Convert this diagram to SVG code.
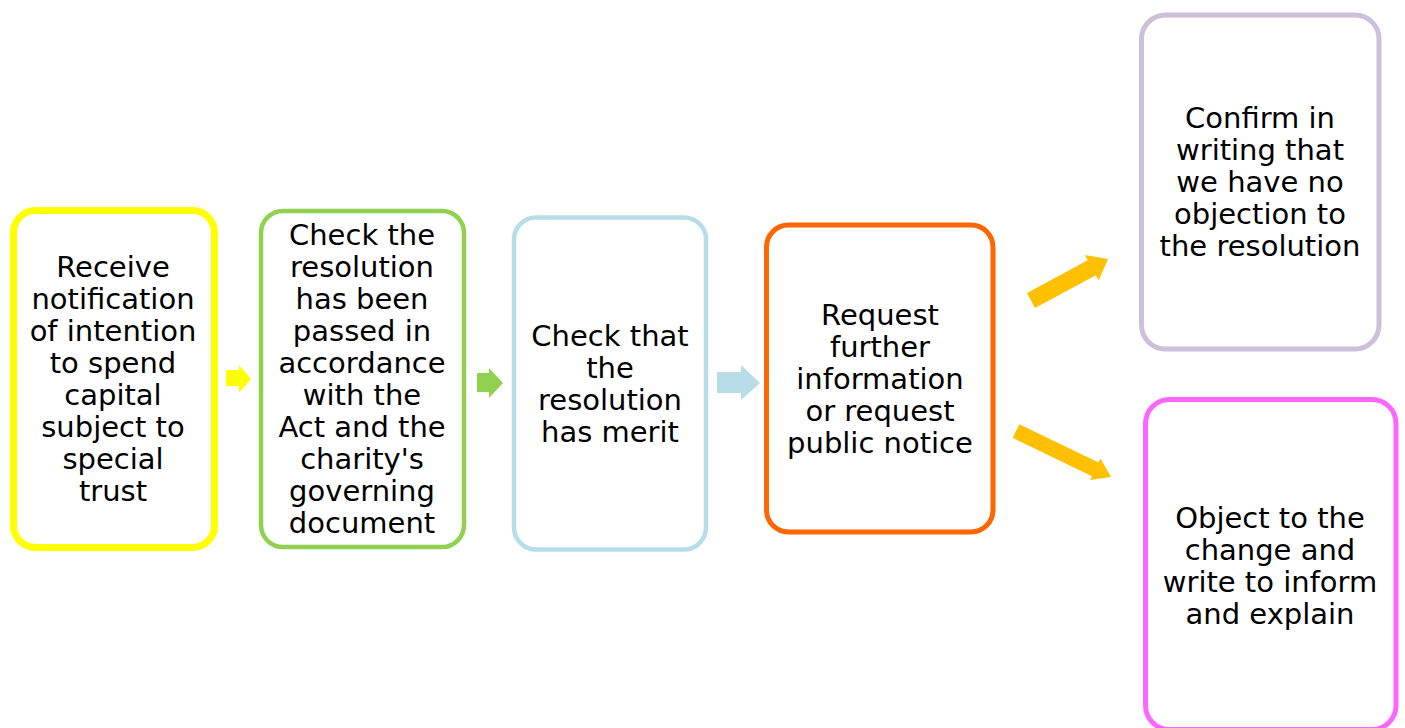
<svg xmlns="http://www.w3.org/2000/svg" width="1405" height="728" viewBox="0 0 1405 728">
<style>
.box{fill:#FFFFFF}
.t{font-family:"DejaVu Sans","Verdana",sans-serif;font-size:29px;fill:#000000;text-anchor:middle}
</style>
<rect width="1405" height="728" fill="#FFFFFF"/>
<g id="connectors">
<polygon points="226,370 239,370 239,365 251,379 239,393 239,386 226,386" fill="#FFFF00"/>
<polygon points="477,373 489,373 489,368 503,383 489,398 489,392 477,392" fill="#92D050"/>
<polygon points="717,372 741,372 741,365 760,383 741,400 741,393 717,393" fill="#B7DEE8"/>
<polygon transform="translate(1031,300.5) rotate(-28.3)" points="0,-8.5 69,-8.5 69,-14.5 87.5,0 69,14.5 69,8.5 0,8.5" fill="#FFC000"/>
<polygon transform="translate(1016,431) rotate(25.8)" points="0,-7.6 88,-7.6 88,-12 105.6,0 88,12 88,7.6 0,7.6" fill="#FFC000"/>
</g>
<g id="node1">
<rect class="box" x="13.5" y="210.5" width="201" height="337" rx="22" stroke="#FFFF00" stroke-width="7"/>
<text class="t"><tspan x="113" y="277">Receive</tspan><tspan x="113" y="309">notification</tspan><tspan x="113" y="341">of intention</tspan><tspan x="113" y="373">to spend</tspan><tspan x="113" y="405">capital</tspan><tspan x="113" y="437">subject to</tspan><tspan x="113" y="469">special</tspan><tspan x="113" y="501">trust</tspan></text>
</g>
<g id="node2">
<rect class="box" x="261" y="211" width="203" height="336" rx="22" stroke="#92D050" stroke-width="4.5"/>
<text class="t"><tspan x="362" y="245">Check the</tspan><tspan x="362" y="277">resolution</tspan><tspan x="362" y="309">has been</tspan><tspan x="362" y="341">passed in</tspan><tspan x="362" y="373">accordance</tspan><tspan x="362" y="405">with the</tspan><tspan x="362" y="437">Act and the</tspan><tspan x="362" y="469">charity's</tspan><tspan x="362" y="501">governing</tspan><tspan x="362" y="533">document</tspan></text>
</g>
<g id="node3">
<rect class="box" x="514" y="217.5" width="192" height="332" rx="22" stroke="#B7DEE8" stroke-width="4.5"/>
<text class="t"><tspan x="610" y="346">Check that</tspan><tspan x="610" y="378">the</tspan><tspan x="610" y="410">resolution</tspan><tspan x="610" y="442">has merit</tspan></text>
</g>
<g id="node4">
<rect class="box" x="766.5" y="225" width="226.5" height="307" rx="22" stroke="#FF6600" stroke-width="5"/>
<text class="t"><tspan x="880" y="325">Request</tspan><tspan x="880" y="357">further</tspan><tspan x="880" y="389">information</tspan><tspan x="880" y="421">or request</tspan><tspan x="880" y="453">public notice</tspan></text>
</g>
<g id="node5">
<rect class="box" x="1141.5" y="15" width="237.5" height="334" rx="24" stroke="#CCC0DA" stroke-width="5"/>
<text class="t"><tspan x="1260" y="128">Confirm in</tspan><tspan x="1260" y="160">writing that</tspan><tspan x="1260" y="192">we have no</tspan><tspan x="1260" y="224">objection to</tspan><tspan x="1260" y="256">the resolution</tspan></text>
</g>
<g id="node6">
<rect class="box" x="1145.5" y="399.5" width="250.5" height="330" rx="24" stroke="#FF66FF" stroke-width="5"/>
<text class="t"><tspan x="1270" y="528">Object to the</tspan><tspan x="1270" y="560">change and</tspan><tspan x="1270" y="592">write to inform</tspan><tspan x="1270" y="624">and explain</tspan></text>
</g>
</svg>
